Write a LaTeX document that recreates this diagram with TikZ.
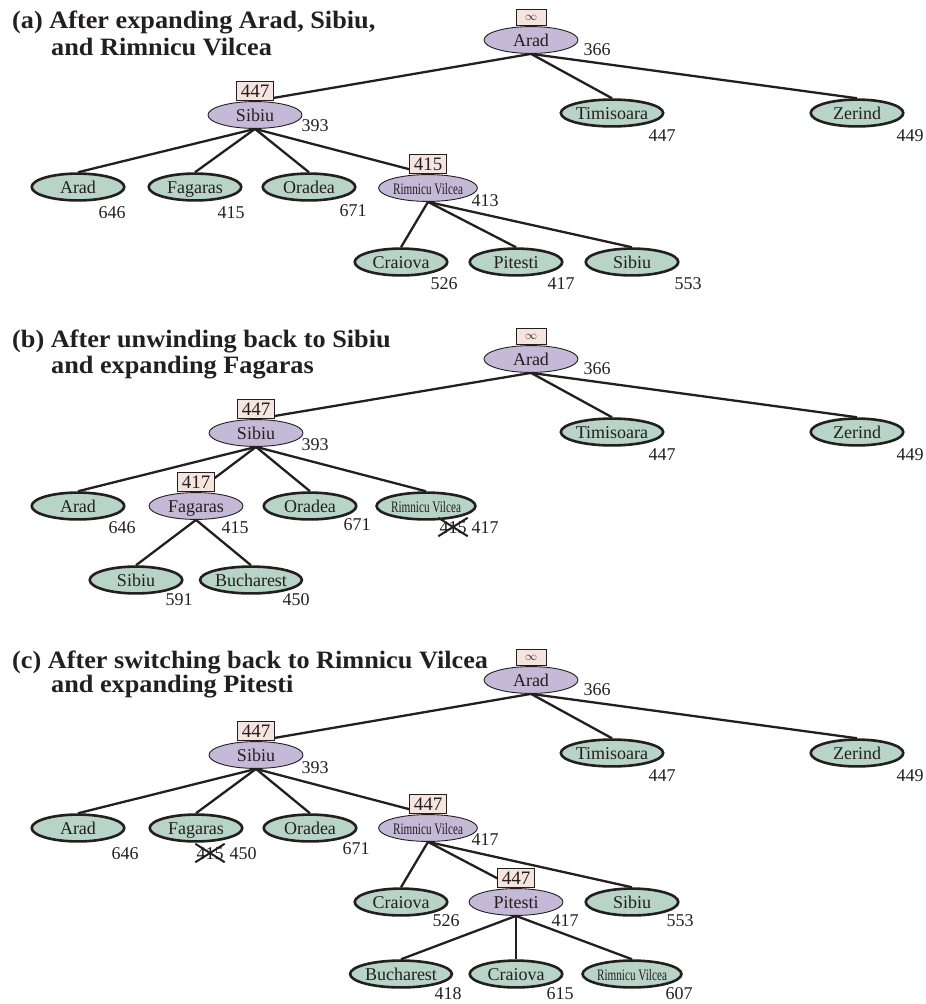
\documentclass[tikz,border=0pt]{standalone}
\usepackage{fontspec}
\setmainfont{Liberation Serif}
\usetikzlibrary{shapes.geometric}
\definecolor{pfill}{HTML}{C4B9D6}
\definecolor{gfill}{HTML}{B7D4C7}
\definecolor{bfill}{HTML}{F5E5DE}
\definecolor{ink}{HTML}{231F20}
\pgfdeclarelayer{bg}
\pgfsetlayers{bg,main}
\newcommand{\RVtext}{\scalebox{0.7}[1]{\fontsize{16}{16}\selectfont Rimnicu Vilcea}}
\newcommand{\Ttl}[1]{\scalebox{1.05}[1]{#1}}
\begin{document}
\begin{tikzpicture}[x=1pt,y=-1pt,
 gnode/.style={ellipse, draw=ink, line width=2.6pt, fill=gfill, minimum width=92.5pt, minimum height=24.5pt, inner sep=0pt, text height=16pt, text depth=3pt, font=\fontsize{18}{18}\selectfont, text=ink},
 pnode/.style={ellipse, draw=ink, line width=0.9pt, fill=pfill, minimum width=94pt, minimum height=26pt, inner sep=0pt, text height=16pt, text depth=3pt, font=\fontsize{18}{18}\selectfont, text=ink},
 fbox/.style={draw=ink, line width=1.2pt, fill=bfill, inner sep=0pt, minimum width=37pt, minimum height=19pt, text height=13pt, text depth=0.5pt, font=\fontsize{19}{19}\selectfont, anchor=south, text=ink},
 ibox/.style={draw=ink, line width=1pt, fill=bfill, inner sep=0pt, minimum width=30pt, minimum height=16pt, anchor=south, text=ink, font=\fontsize{13}{13}\selectfont},
 val/.style={font=\fontsize{18}{18}\selectfont, text=ink, inner sep=0pt},
 conn/.style={draw=ink, line width=2.3pt},
 ttl/.style={font=\fontsize{25}{25}\selectfont\bfseries, text=ink, inner sep=0pt, anchor=base west},
 strk/.style={draw=ink, line width=2pt}]
\useasboundingbox (0,0) rectangle (926,1004);

% ---------------- (a) ----------------
\node[ttl] (aT1) at (12,28) {\Ttl{(a) After expanding Arad, Sibiu,}};
\node[ttl] (aT2) at (51,55) {\Ttl{and Rimnicu Vilcea}};
\node[pnode] (aArad) at (531,40) {Arad};
\node[ibox] (aAradB) at (aArad.north) {$\infty$};
\node[val] (aAradV) at (597,50) {366};
\node[gnode] (aTim) at (612,113) {Timisoara};
\node[val] (aTimV) at (662,136) {447};
\node[gnode] (aZer) at (857,113) {Zerind};
\node[val] (aZerV) at (910,136) {449};
\node[pnode] (aSib) at (255,115) {Sibiu};
\node[fbox] (aSibB) at (aSib.north) {447};
\node[val] (aSibV) at (315,126) {393};
\node[gnode] (aArad2) at (78,187) {Arad};
\node[val] (aArad2V) at (112,213) {646};
\node[gnode] (aFag) at (195,187) {Fagaras};
\node[val] (aFagV) at (231,213) {415};
\node[gnode] (aOra) at (309,187) {Oradea};
\node[val] (aOraV) at (353,211) {671};
\node[pnode] (aRV) at (428,188) {\RVtext};
\node[fbox] (aRVB) at (aRV.north) {415};
\node[val] (aRVV) at (485,201) {413};
\node[gnode] (aCra) at (401,262) {Craiova};
\node[val] (aCraV) at (444,284) {526};
\node[gnode] (aPit) at (516,262) {Pitesti};
\node[val] (aPitV) at (561,284) {417};
\node[gnode] (aSib2) at (632,262) {Sibiu};
\node[val] (aSib2V) at (688,284) {553};
\begin{pgfonlayer}{bg}
\foreach \c in {aSib,aTim,aZer} \draw[conn] (aArad.south) -- (\c.north);
\foreach \c in {aArad2,aFag,aOra,aRV} \draw[conn] (aSib.south) -- (\c.north);
\foreach \c in {aCra,aPit,aSib2} \draw[conn] (aRV.south) -- (\c.north);
\end{pgfonlayer}

% ---------------- (b) ----------------
\node[ttl] (bT1) at (12,347) {\Ttl{(b) After unwinding back to Sibiu}};
\node[ttl] (bT2) at (51,373) {\Ttl{and expanding Fagaras}};
\node[pnode] (bArad) at (531,359) {Arad};
\node[ibox] (bAradB) at (bArad.north) {$\infty$};
\node[val] (bAradV) at (597,369) {366};
\node[gnode] (bTim) at (612,432) {Timisoara};
\node[val] (bTimV) at (662,455) {447};
\node[gnode] (bZer) at (857,432) {Zerind};
\node[val] (bZerV) at (910,455) {449};
\node[pnode] (bSib) at (256,433) {Sibiu};
\node[fbox] (bSibB) at (bSib.north) {447};
\node[val] (bSibV) at (315,445) {393};
\node[gnode] (bArad2) at (78,506) {Arad};
\node[val] (bArad2V) at (122,528) {646};
\node[pnode] (bFag) at (196,506) {Fagaras};
\node[fbox] (bFagB) at (bFag.north) {417};
\node[val] (bFagV) at (235,528) {415};
\node[gnode] (bOra) at (310,506) {Oradea};
\node[val] (bOraV) at (357,525) {671};
\node[gnode] (bRV) at (426,506) {\RVtext};
\node[val] (bRVX) at (453,528) {415};
\node[val] (bRVV) at (485,528) {417};
\draw[strk] ([xshift=-1pt,yshift=-2pt]bRVX.south west) -- ([xshift=1pt,yshift=4pt]bRVX.north east);
\draw[strk] ([xshift=-1pt,yshift=4pt]bRVX.north west) -- ([xshift=1pt,yshift=-2pt]bRVX.south east);
\node[gnode] (bSib2) at (136,580) {Sibiu};
\node[val] (bSib2V) at (179,600) {591};
\node[gnode] (bBuc) at (251,580) {Bucharest};
\node[val] (bBucV) at (296,600) {450};
\begin{pgfonlayer}{bg}
\foreach \c in {bSib,bTim,bZer} \draw[conn] (bArad.south) -- (\c.north);
\foreach \c in {bArad2,bFag,bOra,bRV} \draw[conn] (bSib.south) -- (\c.north);
\foreach \c in {bSib2,bBuc} \draw[conn] (bFag.south) -- (\c.north);
\end{pgfonlayer}

% ---------------- (c) ----------------
\node[ttl] (cT1) at (12,668) {\Ttl{(c) After switching back to Rimnicu Vilcea}};
\node[ttl] (cT2) at (51,692) {\Ttl{and expanding Pitesti}};
\node[pnode] (cArad) at (531,680) {Arad};
\node[ibox] (cAradB) at (cArad.north) {$\infty$};
\node[val] (cAradV) at (597,690) {366};
\node[gnode] (cTim) at (612,753) {Timisoara};
\node[val] (cTimV) at (662,776) {447};
\node[gnode] (cZer) at (857,753) {Zerind};
\node[val] (cZerV) at (910,776) {449};
\node[pnode] (cSib) at (256,755) {Sibiu};
\node[fbox] (cSibB) at (cSib.north) {447};
\node[val] (cSibV) at (315,768) {393};
\node[gnode] (cArad2) at (78,828) {Arad};
\node[val] (cArad2V) at (125,854) {646};
\node[gnode] (cFag) at (196,828) {Fagaras};
\node[val] (cFagX) at (210,854) {415};
\node[val] (cFagV) at (243,854) {450};
\draw[strk] ([xshift=-1pt,yshift=-2pt]cFagX.south west) -- ([xshift=1pt,yshift=4pt]cFagX.north east);
\draw[strk] ([xshift=-1pt,yshift=4pt]cFagX.north west) -- ([xshift=1pt,yshift=-2pt]cFagX.south east);
\node[gnode] (cOra) at (310,828) {Oradea};
\node[val] (cOraV) at (356,849) {671};
\node[pnode] (cRV) at (428,828) {\RVtext};
\node[fbox] (cRVB) at (cRV.north) {447};
\node[val] (cRVV) at (485,840) {417};
\node[gnode] (cCra) at (401,902) {Craiova};
\node[val] (cCraV) at (446,921) {526};
\node[pnode] (cPit) at (516,902) {Pitesti};
\node[fbox] (cPitB) at (cPit.north) {447};
\node[val] (cPitV) at (565,921) {417};
\node[gnode] (cSib2) at (632,902) {Sibiu};
\node[val] (cSib2V) at (680,921) {553};
\node[gnode] (cBuc) at (401,974) {Bucharest};
\node[val] (cBucV) at (448,994) {418};
\node[gnode] (cCra2) at (516,974) {Craiova};
\node[val] (cCra2V) at (560,994) {615};
\node[gnode] (cRV2) at (632,974) {\RVtext};
\node[val] (cRV2V) at (679,994) {607};
\begin{pgfonlayer}{bg}
\foreach \c in {cSib,cTim,cZer} \draw[conn] (cArad.south) -- (\c.north);
\foreach \c in {cArad2,cFag,cOra,cRV} \draw[conn] (cSib.south) -- (\c.north);
\foreach \c in {cCra,cPit,cSib2} \draw[conn] (cRV.south) -- (\c.north);
\foreach \c in {cBuc,cCra2,cRV2} \draw[conn] (cPit.south) -- (\c.north);
\end{pgfonlayer}
\end{tikzpicture}
\end{document}
